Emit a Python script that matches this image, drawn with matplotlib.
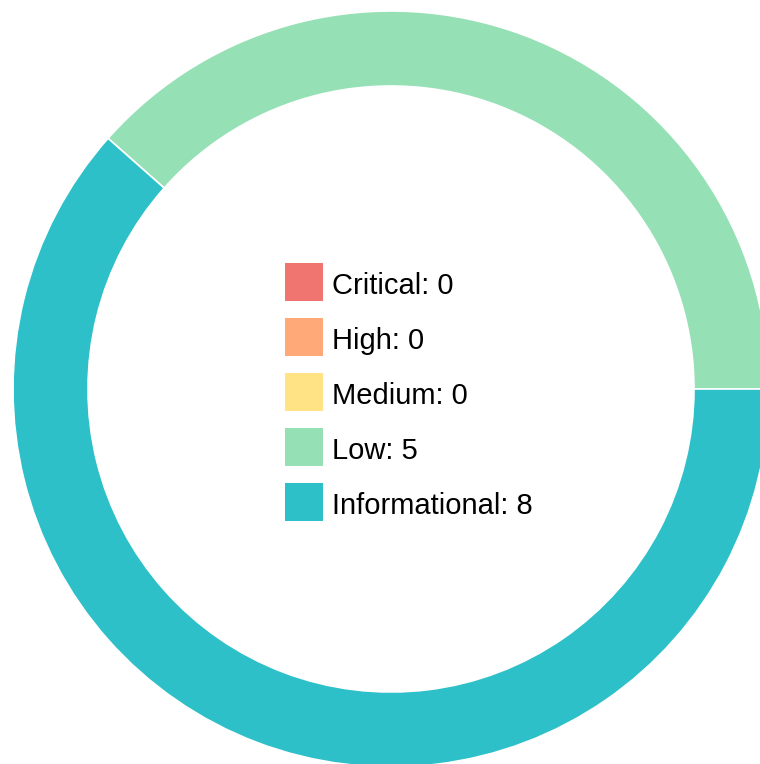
import matplotlib.pyplot as plt
from matplotlib.patches import Rectangle

labels = ["Critical", "High", "Medium", "Low", "Informational"]
counts = [0, 0, 0, 5, 8]
colors = ["#f07470", "#ffa878", "#ffe385", "#95e0b5", "#2dc0c8"]

W, H = 760, 764
CX, CY = 391, 389  # ring centre, pixels from top-left


def main():
    plt.rcParams["font.family"] = ["Liberation Sans", "DejaVu Sans"]
    fig = plt.figure(figsize=(W / 100, H / 100), dpi=100)
    ax = fig.add_axes([0, 0, 1, 1])

    # ring sized in pixel units so the axes maps 1:1
    wedges, _ = ax.pie(
        counts,
        colors=colors,
        startangle=0,
        counterclock=True,
        radius=378,
        wedgeprops=dict(width=75, edgecolor="white", linewidth=1.2),
    )
    ax.set_xlim(-CX, W - CX)
    ax.set_ylim(-(H - CY), CY)
    ax.set_aspect("equal")
    ax.axis("off")

    # legend drawn by hand in the middle of the ring
    box, step = 38, 55
    x0, y0 = 285 - CX, CY - 263
    for i, (lab, c, col) in enumerate(zip(labels, counts, colors)):
        top = y0 - i * step
        ax.add_patch(Rectangle((x0, top - box), box, box, facecolor=col,
                               edgecolor="none"))
        ax.text(x0 + box + 9, top - 31, f"{lab}: {c}", fontsize=21,
                va="baseline", ha="left", color="black")

    fig.savefig("out.png", dpi=100)


if __name__ == "__main__":
    main()
